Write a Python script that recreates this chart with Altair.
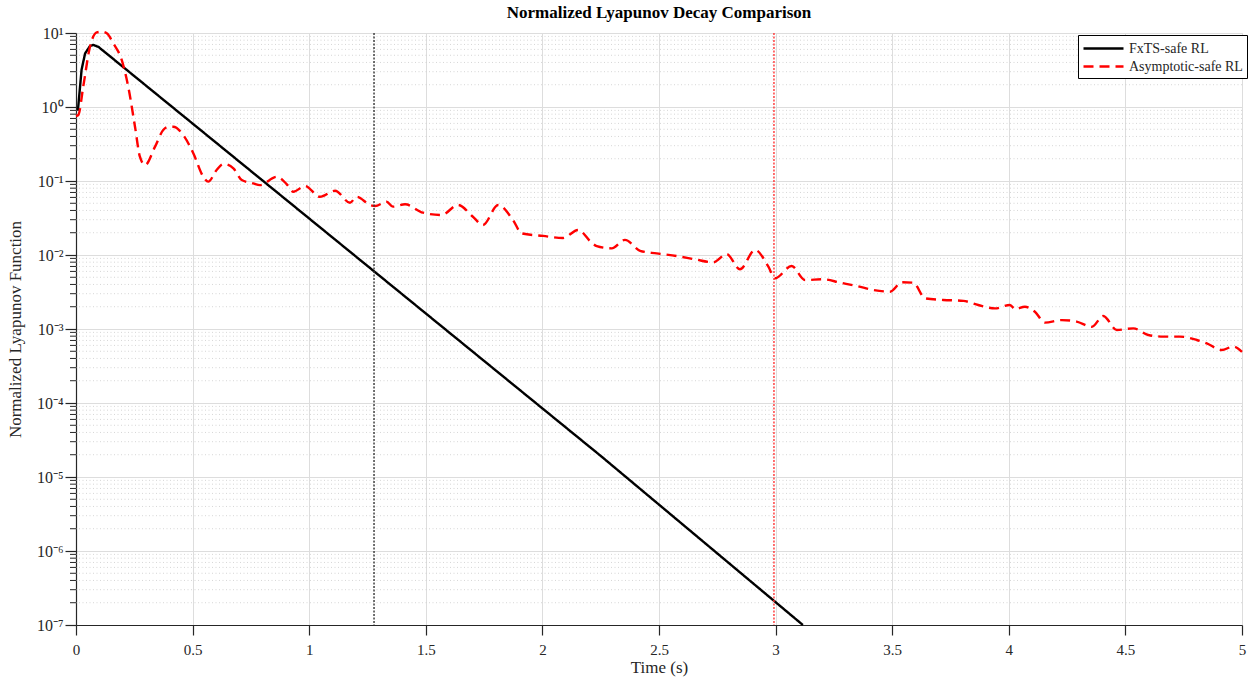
import altair as alt
import pandas as pd

# ---- data ----
fx_t = [0.008, 0.024, 0.039, 0.060, 0.074, 0.096, 2.25, 3.117]
fx_v = [0.89, 3.2, 5.3, 6.67, 6.9, 6.5, 1.93e-5, 1.0e-7]

as_t = [0.0, 0.010, 0.031, 0.060, 0.089, 0.110, 0.132, 0.160, 0.196, 0.224,
        0.253, 0.274, 0.296, 0.339, 0.374, 0.395, 0.417, 0.460, 0.503, 0.546,
        0.567, 0.603, 0.632, 0.675, 0.711, 0.760, 0.789, 0.861, 0.903, 0.932,
        0.982, 1.046, 1.111, 1.175, 1.204, 1.261, 1.282, 1.332, 1.359, 1.411,
        1.488, 1.568, 1.638, 1.702, 1.745, 1.810, 1.874, 1.911, 2.003, 2.088,
        2.153, 2.213, 2.233, 2.297, 2.354, 2.419, 2.490, 2.576, 2.654, 2.733,
        2.790, 2.847, 2.912, 2.969, 2.997, 3.069, 3.126, 3.205, 3.276, 3.348,
        3.419, 3.491, 3.541, 3.590, 3.641, 3.719, 3.805, 3.869, 3.941, 4.005,
        4.027, 4.069, 4.112, 4.155, 4.227, 4.291, 4.356, 4.405, 4.463, 4.534,
        4.598, 4.663, 4.734, 4.806, 4.849, 4.913, 4.963, 5.0]
as_v = [0.755, 0.78, 1.88, 6.53, 10.2, 10.4, 9.9, 7.26, 4.32, 1.88,
        0.542, 0.213, 0.164, 0.291, 0.489, 0.537, 0.542, 0.418, 0.237, 0.114,
        0.098, 0.141, 0.170, 0.148, 0.103, 0.093, 0.088, 0.114, 0.091, 0.0717,
        0.0856, 0.0613, 0.0740, 0.0509, 0.0613, 0.0474, 0.0459, 0.0525, 0.0450, 0.0484,
        0.0373, 0.0347, 0.0474, 0.0329, 0.0254, 0.0474, 0.0297, 0.0196, 0.0181, 0.0170,
        0.0218, 0.0145, 0.0132, 0.0123, 0.0160, 0.0114, 0.0105, 0.00969, 0.00874, 0.00797,
        0.0103, 0.00641, 0.0117, 0.00695, 0.00484, 0.00710, 0.00459, 0.00470, 0.00423, 0.00381,
        0.00337, 0.00319, 0.00428, 0.00423, 0.00260, 0.00247, 0.00240, 0.00211, 0.00190, 0.00211,
        0.00185, 0.00200, 0.00171, 0.00122, 0.00132, 0.00126, 0.00107, 0.00150, 0.00097, 0.00102,
        0.00083, 0.00079, 0.00079, 0.00071, 0.00064, 0.00052, 0.00058, 0.00049]

series_names = ["FxTS-safe RL", "Asymptotic-safe RL"]
vline_t = [1.278, 2.993]
vline_color = ["#333333", "#ff3333"]

x_ticks = [0, 0.5, 1, 1.5, 2, 2.5, 3, 3.5, 4, 4.5, 5]
y_major = [1e-7, 1e-6, 1e-5, 1e-4, 1e-3, 1e-2, 1e-1, 1e0, 1e1]
y_labels = ["10⁻⁷", "10⁻⁶", "10⁻⁵", "10⁻⁴", "10⁻³", "10⁻²", "10⁻¹", "10⁰", "10¹"]
y_minor = [m * 10.0 ** k for k in range(-7, 1) for m in range(2, 10)]

FONT = "Liberation Serif"

df_fx = pd.DataFrame({"t": fx_t, "v": fx_v, "series": series_names[0]})
df_as = pd.DataFrame({"t": as_t, "v": as_v, "series": series_names[1]})
df_minor = pd.DataFrame({"v": y_minor})
df_vl = pd.DataFrame({"t": vline_t, "c": vline_color})

xscale = alt.Scale(domain=[0, 5], nice=False, zero=False)
yscale = alt.Scale(type="log", domain=[1e-7, 10], nice=False)

label_arr = "[" + ",".join("'%s'" % s for s in y_labels) + "]"
label_expr = label_arr + "[round(log(datum.value)/LN10)+7]"

XT = "Time (s)"
YT = "Normalized Lyapunov Function"

xaxis = alt.Axis(values=x_ticks, format="~g", labelFlush=False, grid=True,
                 gridColor="#dddddd", gridWidth=1,
                 tickColor="#262626", tickSize=10, tickWidth=1.2,
                 domainColor="#262626", domainWidth=1.2,
                 labelFont=FONT, labelFontSize=15, labelColor="#262626",
                 labelPadding=7,
                 titleFont=FONT, titleFontSize=17, titleFontWeight="normal",
                 titleColor="#262626", titlePadding=2)
yaxis = alt.Axis(values=y_major, labelExpr=label_expr, grid=True,
                 gridColor="#dddddd", gridWidth=1,
                 tickColor="#262626", tickSize=11, tickWidth=1.2,
                 domainColor="#262626", domainWidth=1.2,
                 labelFont=FONT, labelFontSize=16, labelColor="#262626",
                 labelPadding=2,
                 titleFont=FONT, titleFontSize=17, titleFontWeight="normal",
                 titleColor="#262626", titlePadding=12)

legend = alt.Legend(title=None, orient="none", legendX=1002, legendY=2,
                    symbolType="M-1,0H4", symbolSize=256,
                    symbolStrokeWidth=2.4, symbolFillColor="transparent",
                    labelFont=FONT, labelFontSize=14, labelColor="#262626",
                    strokeColor="#000000", fillColor="#ffffff",
                    padding=4, rowPadding=1, labelOffset=28)

minor_grid = alt.Chart(df_minor).mark_rule(
    color="#cccccc", strokeWidth=0.8, strokeDash=[1, 2.5]
).encode(y=alt.Y("v:Q", scale=yscale, axis=yaxis, title=YT))

minor_ticks = alt.Chart(df_minor).mark_rule(
    color="#262626", strokeWidth=1
).encode(y=alt.Y("v:Q", scale=yscale, axis=yaxis, title=YT),
         x=alt.value(-6), x2=alt.value(0))

color_enc = alt.Color("series:N",
                      scale=alt.Scale(domain=series_names, range=["#000000", "#ff0000"]),
                      legend=legend)
dash_enc = alt.StrokeDash("series:N",
                          scale=alt.Scale(domain=series_names, range=[[1, 0], [10, 6]]),
                          legend=legend)

line_fx = alt.Chart(df_fx).mark_line(strokeWidth=2.4, interpolate="linear").encode(
    x=alt.X("t:Q", scale=xscale, axis=xaxis, title=XT),
    y=alt.Y("v:Q", scale=yscale, axis=yaxis, title=YT),
    color=color_enc, strokeDash=dash_enc,
)
line_as = alt.Chart(df_as).mark_line(strokeWidth=2.4, interpolate="monotone").encode(
    x=alt.X("t:Q", scale=xscale, axis=xaxis, title=XT),
    y=alt.Y("v:Q", scale=yscale, axis=yaxis, title=YT),
    color=color_enc, strokeDash=dash_enc,
)

vlines = alt.Chart(df_vl).mark_rule(strokeWidth=1.4, strokeDash=[2, 1.5]).encode(
    x=alt.X("t:Q", scale=xscale, axis=xaxis, title=XT),
    stroke=alt.Stroke("c:N", scale=None, legend=None),
)

chart = alt.layer(minor_grid, minor_ticks, line_fx, line_as, vlines).properties(
    width=1166, height=592,
    title=alt.TitleParams("Normalized Lyapunov Decay Comparison", font=FONT, fontSize=17,
                          fontWeight="bold", color="#000000", anchor="middle", offset=3),
    autosize=alt.AutoSizeParams(type="none"),
    padding={"left": 76, "top": 33, "right": 8, "bottom": 57},
).configure_view(stroke=None).configure(background="#ffffff")

chart.save("out.html", embed_options={"renderer": "svg", "actions": False})
